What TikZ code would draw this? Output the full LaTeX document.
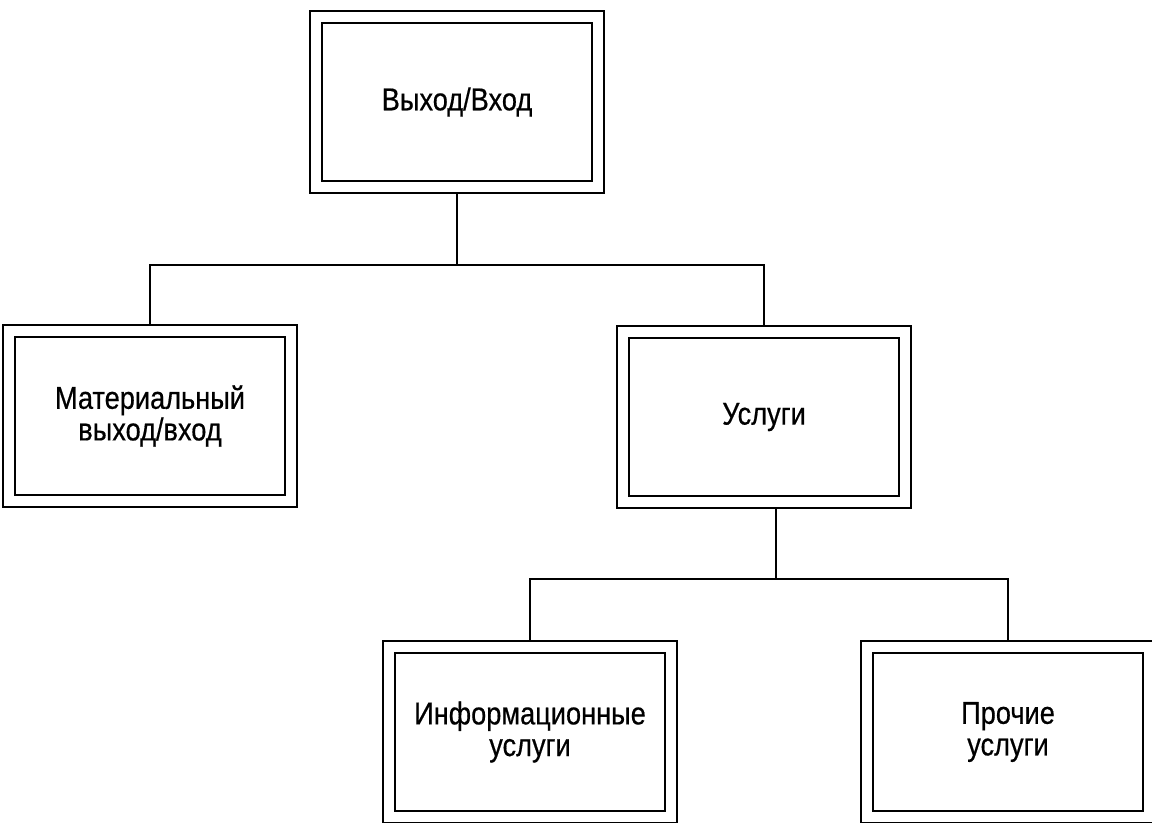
\documentclass[tikz,border=0pt]{standalone}
\usepackage{fontspec}
\setmainfont[FakeStretch=0.86,FakeBold=0.5]{Liberation Sans}

\tikzset{
    unitbox/.style={draw, double, double distance=0.19cm, line width=1.3pt,
        fill=white, minimum width=5.64cm, minimum height=3.4cm,
        outer sep=0.14cm, align=center,
        font=\fontsize{18}{18}\selectfont},
    link/.style={line width=1.3pt}
}

\begin{document}
\begin{tikzpicture}[x=0.02cm, y=-0.02cm]
    % page frame, in pixels of the reference
    \clip (0,0) rectangle (1152,822);
    \fill[white] (0,0) rectangle (1152,822);
    % upper level
    \node[unitbox] (top) at (457,102) {Выход/Вход};
    % second level
    \node[unitbox] (mat) at (150,416) {Материальный\\выход/вход};
    \node[unitbox] (usl) at (764,417) {Услуги};
    % third level
    \node[unitbox] (info) at (530,732) {Информационные\\услуги};
    \node[unitbox] (other) at (1008,732) {Прочие\\услуги};
    % buses between the levels
    \coordinate (busA) at (0,265);
    \coordinate (busB) at (0,579);
    \draw[link] (top.south) -- (top.south |- busA);
    \draw[link] (mat.north) |- (busA -| usl.north) -- (usl.north);
    \draw[link] ([xshift=0.24cm]usl.south) -- ([xshift=0.24cm]usl.south |- busB);
    \draw[link] (info.north) |- (busB -| other.north) -- (other.north);
\end{tikzpicture}
\end{document}
